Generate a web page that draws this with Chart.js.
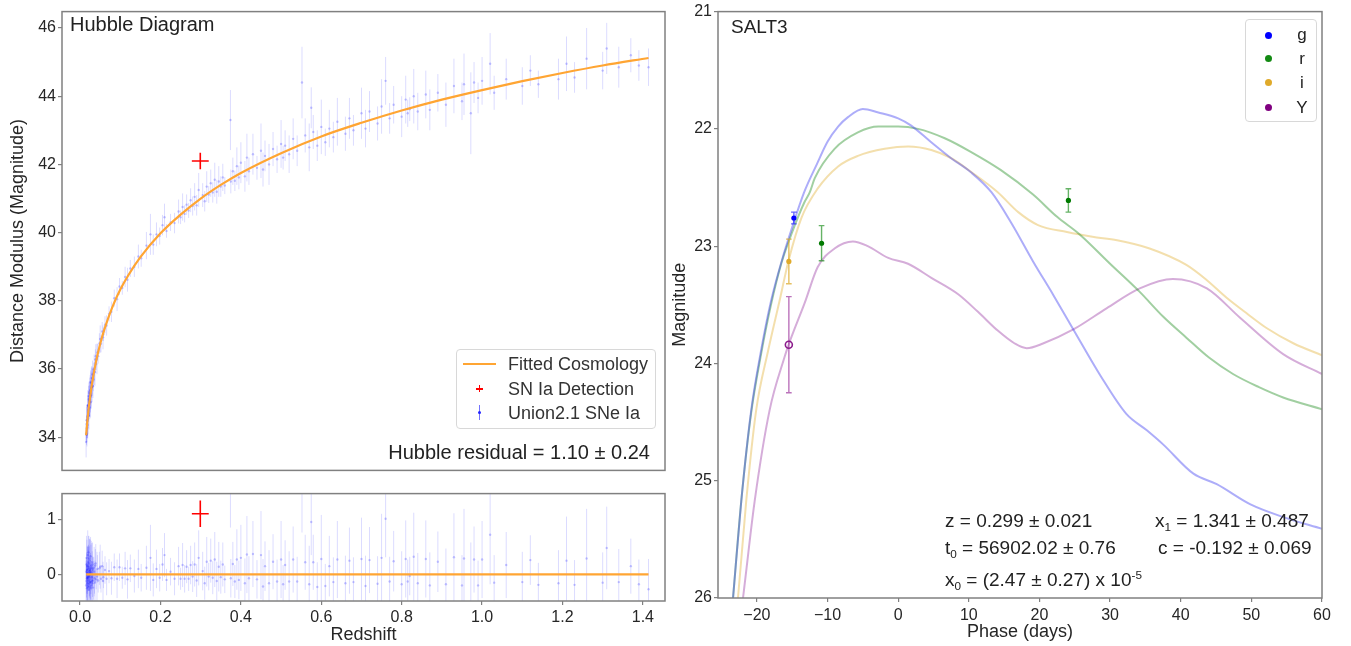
<!DOCTYPE html>
<html><head><meta charset="utf-8">
<script src="https://cdn.jsdelivr.net/npm/chart.js@4.4.1/dist/chart.umd.min.js"></script>
<style>
html,body{margin:0;padding:0;background:#fff;width:1351px;height:646px;overflow:hidden;font-family:'Liberation Sans',Arial,sans-serif;}
.box{position:absolute;}
.t{position:absolute;white-space:nowrap;color:#222;font-family:'Liberation Sans',Arial,sans-serif;}
.sb{font-size:0.62em;vertical-align:-0.35em;}
.sp{font-size:0.62em;vertical-align:0.6em;}
</style></head><body>
<div class="box" style="left:0;top:0;width:680px;height:482px"><canvas id="hub"></canvas></div>
<div class="box" style="left:0;top:482px;width:680px;height:164px"><canvas id="res"></canvas></div>
<div class="box" style="left:660px;top:0;width:691px;height:646px"><canvas id="lc"></canvas></div>

<!-- Hubble panel texts -->
<div class="t" style="left:70px;top:14px;font-size:20px;line-height:20px">Hubble Diagram</div>
<div class="box" style="left:456px;top:349px;width:198px;height:78px;border:1px solid #d8d8d8;border-radius:4px;background:rgba(255,255,255,0.85)"></div>
<div class="box" style="left:463px;top:363px;width:33px;height:2px;background:#ffa533"></div>
<div class="t" style="left:508px;top:354px;font-size:18px;line-height:20px;color:#333">Fitted Cosmology</div>
<div class="box" style="left:476px;top:388px;width:7px;height:1.5px;background:#ff0000"></div>
<div class="box" style="left:478.8px;top:385px;width:1.5px;height:7px;background:#ff0000"></div>
<div class="t" style="left:508px;top:379px;font-size:18px;line-height:20px;color:#333">SN Ia Detection</div>
<div class="box" style="left:479px;top:405px;width:1.3px;height:15px;background:rgba(0,0,255,0.55)"></div>
<div class="box" style="left:477.8px;top:410.8px;width:3.6px;height:3.6px;border-radius:50%;background:#2222ff"></div>
<div class="t" style="left:508px;top:403px;font-size:18px;line-height:20px;color:#333">Union2.1 SNe Ia</div>
<div class="t" style="right:701px;top:442px;font-size:20px;line-height:20px">Hubble residual = 1.10 ± 0.24</div>

<!-- SALT3 panel texts -->
<div class="t" style="left:731px;top:17px;font-size:19px;line-height:19px">SALT3</div>
<div class="box" style="left:1245px;top:19px;width:70px;height:101px;border:1px solid #d8d8d8;border-radius:4px;background:rgba(255,255,255,0.85)"></div>
<div class="box" style="left:1264.5px;top:31.5px;width:7px;height:7px;border-radius:50%;background:#0000ff"></div>
<div class="box" style="left:1264.5px;top:55px;width:7px;height:7px;border-radius:50%;background:#138a13"></div>
<div class="box" style="left:1264.5px;top:79px;width:7px;height:7px;border-radius:50%;background:#e0aa2a"></div>
<div class="box" style="left:1264.5px;top:103.5px;width:7px;height:7px;border-radius:50%;background:#800080"></div>
<div class="t" style="left:1292px;width:20px;text-align:center;top:26px;font-size:17px;line-height:17px">g</div>
<div class="t" style="left:1292px;width:20px;text-align:center;top:50px;font-size:17px;line-height:17px">r</div>
<div class="t" style="left:1292px;width:20px;text-align:center;top:74px;font-size:17px;line-height:17px">i</div>
<div class="t" style="left:1292px;width:20px;text-align:center;top:98.5px;font-size:17px;line-height:17px">Y</div>

<div class="t" style="left:945px;top:511px;font-size:19px;line-height:19px">z = 0.299 ± 0.021</div>
<div class="t" style="left:945px;top:538px;font-size:19px;line-height:19px">t<span class="sb">0</span> = 56902.02 ± 0.76</div>
<div class="t" style="left:945px;top:565px;font-size:19px;line-height:19px">x<span class="sb">0</span> = (2.47 ± 0.27) x 10<span class="sp">-5</span></div>
<div class="t" style="left:1155px;top:511px;font-size:19px;line-height:19px">x<span class="sb">1</span> = 1.341 ± 0.487</div>
<div class="t" style="left:1158px;top:538px;font-size:19px;line-height:19px">c = -0.192 ± 0.069</div>

<script>
// ---------- Hubble diagram data ----------
const zTicks = [0.0, 0.2, 0.4, 0.6, 0.8, 1.0, 1.2, 1.4];
const zTickLabels = ['0.0', '0.2', '0.4', '0.6', '0.8', '1.0', '1.2', '1.4'];
const hubbleTicks = [34, 36, 38, 40, 42, 44, 46];
const hubbleTickLabels = ['34', '36', '38', '40', '42', '44', '46'];
const resTicks = [0, 1];
const resTickLabels = ['0', '1'];

const fitZ  = [0.015, 0.02, 0.025, 0.03, 0.04, 0.05, 0.06, 0.08, 0.1, 0.12, 0.15, 0.2, 0.25, 0.3, 0.35, 0.4, 0.5, 0.6, 0.7, 0.8, 0.9, 1.0, 1.1, 1.2, 1.3, 1.414];
const fitMu = [34.06, 34.7, 35.19, 35.6, 36.24, 36.74, 37.15, 37.81, 38.33, 38.75, 39.28, 39.98, 40.53, 41.0, 41.4, 41.75, 42.33, 42.82, 43.22, 43.58, 43.9, 44.18, 44.44, 44.68, 44.9, 45.12];
const resLineZ = [0.015, 1.414];
const resLineVal = [0, 0];

const snZ = [
 0.015,0.016,0.016,0.017,0.018,0.018,0.019,0.020,0.021,0.021,
 0.022,0.023,0.023,0.024,0.025,0.026,0.027,0.028,0.029,0.030,
 0.031,0.032,0.033,0.034,0.036,0.038,0.040,0.043,0.045,0.048,
 0.052,0.055,0.058,0.062,0.066,0.072,0.078,0.085,0.092,0.098,
 0.105,0.112,0.118,0.125,0.135,0.145,0.152,0.165,0.175,0.182,
 0.190,0.198,0.205,0.210,0.215,0.225,0.235,0.245,0.250,0.255,
 0.260,0.265,0.270,0.275,0.280,0.285,0.290,0.295,0.305,0.310,
 0.315,0.320,0.325,0.330,0.335,0.340,0.345,0.350,0.355,0.360,
 0.374,0.375,0.380,0.385,0.390,0.395,0.400,0.410,0.415,0.420,
 0.430,0.440,0.450,0.455,0.460,0.470,0.480,0.490,0.500,0.505,
 0.510,0.520,0.530,0.540,0.552,0.560,0.570,0.575,0.580,0.590,
 0.600,0.610,0.620,0.630,0.640,0.660,0.670,0.680,0.700,0.710,
 0.720,0.740,0.750,0.760,0.770,0.780,0.800,0.810,0.815,0.820,
 0.830,0.840,0.860,0.870,0.890,0.910,0.930,0.950,0.955,0.972,
 0.980,0.990,1.000,1.020,1.030,1.060,1.100,1.120,1.140,1.190,
 1.210,1.230,1.260,1.300,1.310,1.340,1.370,1.390,1.414,
 0.015,0.016,0.017,0.017,0.018,0.019,0.019,0.020,0.020,0.021,
 0.022,0.022,0.023,0.024,0.024,0.025,0.026,0.026,0.027,0.028,
 0.029,0.030,0.031,0.032,0.035,0.037,0.039,0.042,0.050,0.057];
const snMu = [
 34.11,34.08,34.38,34.26,34.61,34.30,34.52,34.92,34.70,34.95,
 34.88,35.30,34.84,35.12,35.05,35.39,35.22,35.60,35.47,35.72,
 35.51,35.83,35.70,35.99,35.92,36.28,36.15,36.49,36.38,36.75,
 36.74,37.10,37.02,37.30,37.28,37.62,37.68,38.08,38.05,38.42,
 38.38,38.70,38.62,38.95,39.00,39.30,39.25,39.62,39.95,39.65,
 39.95,39.90,40.22,40.45,40.05,40.30,40.28,40.62,40.45,40.75,
 40.55,40.82,40.65,40.95,40.78,41.05,40.80,41.25,41.10,40.92,
 41.35,41.12,41.45,41.18,41.55,41.20,41.50,41.35,41.62,41.38,
 43.30,41.50,41.80,41.52,41.95,41.62,42.05,41.65,42.20,41.80,
 42.30,41.90,42.40,41.85,42.25,42.00,42.45,42.15,42.60,42.20,
 42.55,42.30,42.75,42.40,44.40,42.85,42.50,43.66,42.95,42.55,
 43.10,42.65,43.05,42.80,43.25,42.90,43.35,43.00,43.50,43.05,
 43.55,43.20,43.70,44.45,43.35,43.75,43.40,43.90,43.50,43.62,
 44.00,43.55,44.05,43.60,44.10,43.75,44.30,43.85,44.35,43.50,
 44.40,43.95,44.45,44.95,44.10,44.50,44.30,44.75,44.35,44.50,
 44.95,44.55,45.10,44.75,45.40,44.85,45.20,44.90,44.85,
 33.86,34.50,34.08,34.41,34.48,34.93,34.36,34.65,34.80,35.21,
 34.63,35.11,35.07,34.88,35.35,35.27,35.03,35.61,35.40,35.24,
 35.74,35.48,35.85,35.50,35.98,35.91,36.38,36.30,36.88,36.93];
const snErr = [
 0.25,0.30,0.22,0.28,0.35,0.20,0.25,0.30,0.18,0.40,
 0.22,0.35,0.25,0.20,0.30,0.28,0.22,0.45,0.20,0.30,
 0.25,0.22,0.35,0.20,0.28,0.30,0.18,0.25,0.22,0.30,
 0.25,0.28,0.20,0.25,0.30,0.22,0.30,0.25,0.35,0.25,
 0.20,0.30,0.35,0.25,0.30,0.35,0.25,0.40,0.60,0.30,
 0.35,0.25,0.30,0.40,0.20,0.25,0.30,0.35,0.20,0.40,
 0.25,0.30,0.22,0.35,0.28,0.40,0.30,0.50,0.35,0.30,
 0.45,0.25,0.40,0.30,0.50,0.35,0.45,0.30,0.40,0.25,
 0.88,0.35,0.40,0.30,0.55,0.35,0.60,0.45,0.70,0.40,
 0.60,0.35,0.80,0.50,0.45,0.60,0.50,0.40,0.70,0.35,
 0.45,0.55,0.60,0.45,1.05,0.50,0.70,0.60,0.50,0.45,
 0.80,0.40,0.55,0.45,0.70,0.50,0.60,0.45,0.75,0.55,
 0.60,0.50,0.80,0.70,0.45,0.55,0.60,0.70,0.40,0.35,
 0.80,0.55,0.70,0.60,0.55,0.65,0.80,0.55,0.90,1.20,
 0.60,0.45,0.70,0.90,0.50,0.60,0.55,0.45,0.40,0.60,
 0.80,0.45,0.90,0.55,0.75,0.60,0.50,0.45,0.55,
 0.45,0.40,0.35,0.55,0.50,0.45,0.40,0.55,0.35,0.30,
 0.40,0.50,0.45,0.35,0.40,0.55,0.45,0.35,0.50,0.40,
 0.35,0.45,0.40,0.35,0.45,0.40,0.35,0.45,0.40,0.35];
const snRes = [
 0.05,-0.12,0.18,-0.07,0.15,-0.16,-0.06,0.22,-0.11,0.14,
 -0.03,0.29,-0.17,0.02,-0.14,0.11,-0.14,0.16,-0.05,0.12,
 -0.16,0.09,-0.11,0.12,-0.07,0.16,-0.09,0.10,-0.11,0.11,
 -0.08,0.15,-0.05,0.08,-0.08,0.06,-0.07,0.13,-0.08,0.13,
 -0.06,0.11,-0.09,0.11,-0.03,0.10,-0.06,0.12,0.30,-0.10,
 0.10,-0.06,0.18,0.35,-0.10,0.05,-0.08,0.15,-0.08,0.17,
 -0.08,0.14,-0.08,0.17,-0.04,0.18,-0.11,0.30,0.06,-0.16,
 0.23,-0.04,0.25,-0.06,0.27,-0.12,0.14,-0.05,0.18,-0.09,
 1.73,-0.07,0.19,-0.13,0.27,-0.10,0.30,-0.16,0.36,-0.07,
 0.37,-0.09,0.35,-0.22,0.15,-0.16,0.23,-0.13,0.27,-0.18,
 0.17,-0.13,0.27,-0.13,1.81,0.22,-0.18,0.95,0.22,-0.23,
 0.28,-0.21,0.15,-0.14,0.27,-0.16,0.25,-0.14,0.28,-0.21,
 0.26,-0.17,0.30,1.01,-0.13,0.24,-0.18,0.28,-0.13,-0.03,
 0.32,-0.16,0.28,-0.20,0.23,-0.18,0.31,-0.20,0.29,-0.62,
 0.27,-0.20,0.27,0.72,-0.15,0.17,-0.14,0.26,-0.19,-0.16,
 0.25,-0.19,0.29,-0.15,0.48,-0.14,0.15,-0.18,-0.27,
 -0.20,0.30,-0.25,0.08,0.02,0.35,-0.22,-0.05,0.10,0.40,
 -0.28,0.20,0.06,-0.22,0.25,0.08,-0.25,0.33,0.04,-0.20,
 0.22,-0.12,0.18,-0.24,0.05,-0.15,0.20,-0.04,0.14,-0.12];

const detZ = 0.299, detZErr = 0.021;
const detMu = 42.10, detMuErr = 0.24;
const detRes = 1.10, detResErr = 0.24;

// ---------- SALT3 light-curve data ----------
const phaseTicks = [-20, -10, 0, 10, 20, 30, 40, 50, 60];
const phaseTickLabels = ['\u221220', '\u221210', '0', '10', '20', '30', '40', '50', '60'];
const magTicks = [21, 22, 23, 24, 25, 26];
const magTickLabels = ['21', '22', '23', '24', '25', '26'];

const gPhase = [-23.8,-23.4,-22.2,-20.8,-19.4,-18.0,-16.5,-15.0,-13.3,-11.5,-10.0,-8.5,-7.1,-5.0,-2.8,0,1.8,4.6,7.5,10.3,13.2,16.0,19.1,22.0,24.8,28.6,32.3,35.2,37.5,41.8,45.1,49.8,54.5,60];
const gMag   = [26.3,26.02,25.17,24.40,23.89,23.47,23.13,22.84,22.54,22.30,22.11,21.98,21.90,21.83,21.86,21.91,21.97,22.11,22.25,22.37,22.54,22.80,23.13,23.42,23.71,24.10,24.43,24.57,24.69,24.94,25.03,25.20,25.31,25.41];
const rPhase = [-23.8,-23.4,-22.2,-20.8,-19.4,-18.0,-16.5,-15.0,-13.3,-12.5,-11.8,-9.0,-5.7,-2.8,0,2.8,6.6,10.4,14.5,19.1,22.5,25.7,30.0,34.2,37.5,40.8,44.0,47.4,51.0,54.5,60];
const rMag   = [26.3,26.02,25.17,24.42,23.92,23.50,23.14,22.88,22.63,22.54,22.42,22.17,22.03,21.98,21.98,22.00,22.08,22.20,22.35,22.56,22.75,22.90,23.15,23.39,23.60,23.78,23.95,24.09,24.20,24.29,24.39];
const iPhase = [-23.2,-22.7,-21.5,-20.1,-18.4,-16.8,-15.5,-13.7,-11.4,-8.5,-5.7,-1.9,1.4,4.7,7.5,10.4,14.1,17.0,19.8,23.9,27.5,31.0,35.6,40.8,43.5,46.5,49.5,52.2,56.0,60];
const iMag   = [26.3,26.02,25.17,24.40,23.89,23.47,23.12,22.76,22.51,22.32,22.23,22.17,22.15,22.18,22.25,22.37,22.54,22.71,22.82,22.88,22.92,22.95,23.02,23.16,23.28,23.44,23.58,23.70,23.83,23.93];
const YPhase = [-22.6,-22.0,-20.3,-18.2,-16.1,-15.5,-13.2,-11.4,-9.0,-6.4,-4.3,-1.4,1.4,4.7,8.5,11.3,14.1,16.5,18.2,20.5,24.8,29.5,34.2,38.9,43.7,48.4,54.5,60];
const YMag   = [26.3,26.02,25.17,24.40,23.95,23.84,23.48,23.18,23.02,22.96,23.00,23.10,23.15,23.27,23.41,23.56,23.72,23.83,23.87,23.83,23.71,23.53,23.36,23.28,23.36,23.61,23.92,24.09];

const gObsPhase = [-14.76], gObsMag = [22.76], gObsErr = [0.05];
const rObsPhase = [-10.84, 24.1], rObsMag = [22.975, 22.61], rObsErr = [0.15, 0.10];
const iObsPhase = [-15.47], iObsMag = [23.13], iObsErr = [0.19];
const YObsPhase = [-15.47], YObsMag = [23.84], YObsErr = [0.41];

// ---------- helpers ----------
const pts = (xs, ys) => xs.map((x, i) => ({x: x, y: ys[i]}));
function bars(xs, ys, es, cap) {
  const out = [];
  xs.forEach((x, i) => {
    const lo = ys[i] - es[i], hi = ys[i] + es[i];
    out.push({x: x, y: lo}, {x: x, y: hi}, {x: x, y: null});
    if (cap) {
      out.push({x: x - cap, y: lo}, {x: x + cap, y: lo}, {x: x, y: null},
               {x: x - cap, y: hi}, {x: x + cap, y: hi}, {x: x, y: null});
    }
  });
  return out;
}
const cross = (x, ex, y, ey) => [{x: x - ex, y: y}, {x: x + ex, y: y}, {x: x, y: null}, {x: x, y: y - ey}, {x: x, y: y + ey}];

const frame = {
  id: 'frame',
  afterDatasetsDraw(chart) {
    const a = chart.chartArea, ctx = chart.ctx;
    ctx.save();
    ctx.strokeStyle = '#808080';
    ctx.lineWidth = 1.5;
    ctx.strokeRect(a.left, a.top, a.right - a.left, a.bottom - a.top);
    ctx.restore();
  }
};

const FONT = "'Liberation Sans', Arial, sans-serif";
Chart.defaults.font.family = FONT;
Chart.defaults.color = '#262626';
const tickFont = {family: FONT, size: 16};
const titleFont = {family: FONT, size: 18};
const gridOpt = {drawOnChartArea: false, drawTicks: true, tickLength: 4, color: '#808080', lineWidth: 1.2};

function yAxis(min, max, ticks, labels, width, title, titlePad, reverse) {
  return {
    type: 'linear', position: 'left', min: min, max: max, reverse: !!reverse,
    afterFit: s => { s.width = width; },
    afterBuildTicks: s => { s.ticks = ticks.map(v => ({value: v})); },
    ticks: {font: tickFont, padding: 2, color: '#262626', callback: (v, i) => labels[i]},
    grid: gridOpt, border: {display: false},
    title: title ? {display: true, text: title, font: titleFont, color: '#262626', padding: {top: titlePad, bottom: 0}} : {display: false}
  };
}
function xAxis(min, max, ticks, labels, height, title, titlePad, tickPad) {
  return {
    type: 'linear', position: 'bottom', min: min, max: max,
    afterFit: s => { s.height = height; },
    afterBuildTicks: s => { s.ticks = ticks.map(v => ({value: v})); },
    ticks: {font: tickFont, padding: tickPad, color: '#262626', maxRotation: 0, autoSkip: false, callback: (v, i) => labels[i]},
    grid: gridOpt, border: {display: false},
    title: {display: true, text: title, font: titleFont, color: '#262626', padding: {top: 0, bottom: titlePad}}
  };
}
const baseOpts = (padding, scales) => ({
  responsive: true, maintainAspectRatio: false, animation: false, devicePixelRatio: 1, events: [],
  layout: {padding: padding},
  plugins: {legend: {display: false}, tooltip: {enabled: false}},
  scales: scales
});
const lineDs = (data, color, width, extra) => Object.assign({data: data, showLine: true, borderColor: color, borderWidth: width, pointRadius: 0, pointHoverRadius: 0, spanGaps: false}, extra || {});

const Z_MIN = -0.045, Z_MAX = 1.455;
const SN_DOT = 'rgba(0,0,255,0.22)', SN_BAR = 'rgba(0,0,255,0.14)';

// ---------- Hubble diagram ----------
new Chart(document.getElementById('hub'), {
  type: 'scatter',
  data: {datasets: [
    lineDs(cross(detZ, detZErr, detMu, detMuErr), '#ff0000', 1.6),
    lineDs(pts(fitZ, fitMu), '#ffa533', 2.2, {cubicInterpolationMode: 'monotone'}),
    {data: pts(snZ, snMu), pointRadius: 1.2, pointHoverRadius: 0, pointBackgroundColor: SN_DOT, pointBorderWidth: 0},
    lineDs(bars(snZ, snMu, snErr, 0), SN_BAR, 1)
  ]},
  options: baseOpts({top: 8, right: 15, bottom: 2, left: 0}, {
    x: {type: 'linear', min: Z_MIN, max: Z_MAX, display: false},
    y: yAxis(33.03, 46.48, hubbleTicks, hubbleTickLabels, 62, 'Distance Modulus (Magnitude)', 7)
  }),
  plugins: [frame]
});

// ---------- Residuals ----------
new Chart(document.getElementById('res'), {
  type: 'scatter',
  data: {datasets: [
    lineDs(cross(detZ, detZErr, detRes, detResErr), '#ff0000', 1.6),
    lineDs(pts(resLineZ, resLineVal), '#ffa533', 2.2),
    {data: pts(snZ, snRes), pointRadius: 1.2, pointHoverRadius: 0, pointBackgroundColor: SN_DOT, pointBorderWidth: 0},
    lineDs(bars(snZ, snRes, snErr, 0), SN_BAR, 1)
  ]},
  options: baseOpts({top: 2, right: 15, bottom: 0, left: 0}, {
    x: xAxis(Z_MIN, Z_MAX, zTicks, zTickLabels, 45, 'Redshift', 0, 3),
    y: yAxis(-0.483, 1.467, resTicks, resTickLabels, 62, '', 0)
  }),
  plugins: [frame]
});

// ---------- SALT3 light curves ----------
const CAP = 0.4;
new Chart(document.getElementById('lc'), {
  type: 'scatter',
  data: {datasets: [
    {data: pts(gObsPhase, gObsMag), pointRadius: 2.6, pointHoverRadius: 0, pointBackgroundColor: '#0000ff', pointBorderWidth: 0},
    {data: pts(rObsPhase, rObsMag), pointRadius: 2.6, pointHoverRadius: 0, pointBackgroundColor: '#007a00', pointBorderWidth: 0},
    {data: pts(iObsPhase, iObsMag), pointRadius: 2.6, pointHoverRadius: 0, pointBackgroundColor: '#e0aa2a', pointBorderWidth: 0},
    {data: pts(YObsPhase, YObsMag), pointRadius: 3.5, pointHoverRadius: 0, pointBackgroundColor: 'rgba(255,255,255,0)', pointBorderColor: '#8b1a8b', pointBorderWidth: 1.6},
    lineDs(bars(gObsPhase, gObsMag, gObsErr, CAP), 'rgba(0,0,255,0.6)', 1.4),
    lineDs(bars(rObsPhase, rObsMag, rObsErr, CAP), 'rgba(0,128,0,0.6)', 1.4),
    lineDs(bars(iObsPhase, iObsMag, iObsErr, CAP), 'rgba(218,165,32,0.7)', 1.4),
    lineDs(bars(YObsPhase, YObsMag, YObsErr, CAP), 'rgba(150,40,150,0.65)', 1.4),
    lineDs(pts(gPhase, gMag), 'rgba(60,60,240,0.42)', 2, {cubicInterpolationMode: 'monotone'}),
    lineDs(pts(rPhase, rMag), 'rgba(30,140,30,0.42)', 2, {cubicInterpolationMode: 'monotone'}),
    lineDs(pts(iPhase, iMag), 'rgba(225,175,50,0.4)', 2, {cubicInterpolationMode: 'monotone'}),
    lineDs(pts(YPhase, YMag), 'rgba(150,50,160,0.4)', 2, {cubicInterpolationMode: 'monotone'})
  ]},
  options: baseOpts({top: 8, right: 29, bottom: 0, left: 0}, {
    x: xAxis(-25.5, 60, phaseTicks, phaseTickLabels, 48, 'Phase (days)', 3, 4),
    y: yAxis(21, 26, magTicks, magTickLabels, 58, 'Magnitude', 9, true)
  }),
  plugins: [frame]
});
</script>
</body></html>
